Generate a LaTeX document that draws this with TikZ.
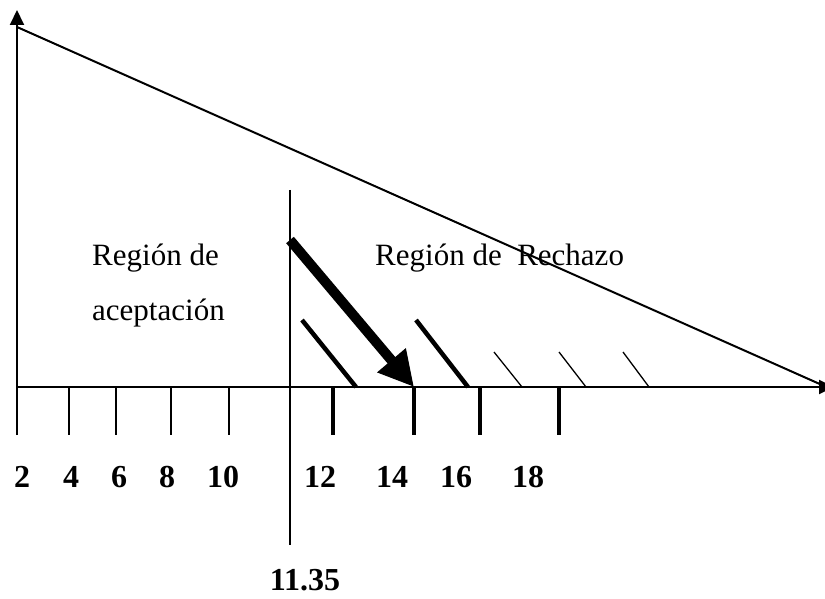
\documentclass[tikz,border=0pt]{standalone}
\usepackage{fontspec}
\setmainfont{Liberation Serif}
\usetikzlibrary{arrows.meta}
\begin{document}
\begin{tikzpicture}[x=1pt,y=-1pt]
\tikzset{axisline/.style = {line width=2pt}, thinmark/.style = {line width=2pt}, thickmark/.style = {line width=4.5pt},
  thinhatch/.style = {line width=1.3pt}, textlabel/.style = {font=\fontsize{31}{36}\selectfont, inner sep=0pt, anchor=base}, boldlabel/.style = {textlabel, font=\fontsize{32}{36}\selectfont\bfseries}}
\useasboundingbox (0,0) rectangle (825,599);
\coordinate (O) at (17,387); \coordinate (Y) at (17,10); \coordinate (X) at (834,387); \coordinate (D1) at (17,27); \coordinate (D2) at (822,385);
\coordinate (B0) at (17,435); \coordinate (T1) at (69,387); \coordinate (T2) at (116,387); \coordinate (T3) at (171,387); \coordinate (T4) at (229,387);
\coordinate (B1) at (69,435); \coordinate (B2) at (116,435); \coordinate (B3) at (171,435); \coordinate (B4) at (229,435);
\coordinate (K1) at (333,387); \coordinate (K2) at (414,387); \coordinate (K3) at (480,387); \coordinate (K4) at (559,387);
\coordinate (L1) at (333,435); \coordinate (L2) at (414,435); \coordinate (L3) at (480,435); \coordinate (L4) at (559,435);
\coordinate (V1) at (290,190); \coordinate (V2) at (290,512); \coordinate (V3) at (290,545);
\coordinate (H1) at (302,320); \coordinate (H2) at (416,320); \coordinate (H3) at (494,352); \coordinate (H4) at (559,352); \coordinate (H5) at (623,352);
\coordinate (G1) at (356,387); \coordinate (G2) at (468,387); \coordinate (G3) at (522,387); \coordinate (G4) at (586,387); \coordinate (G5) at (649,387);
\coordinate (P) at (290,240);
% axes and line
\draw[axisline, -{Triangle[length=15pt,width=14pt]}] (B0) -- (Y);
\draw[axisline, -{Triangle[length=15pt,width=14pt]}] (O) -- (X);
\draw[axisline] (D1) -- (D2);
\draw[line width=2.2pt] (V1) -- (V2); \draw[line width=1.5pt] (V2) -- (V3);
% marks
\draw[thinmark] (T1) -- (B1) (T2) -- (B2) (T3) -- (B3) (T4) -- (B4);
\draw[thickmark] (K1) -- (L1) (K2) -- (L2) (K3) -- (L3) (K4) -- (L4);
\draw[thickmark] (H1) -- (G1) (H2) -- (G2);
\draw[thinhatch] (H3) -- (G3) (H4) -- (G4) (H5) -- (G5);
\draw[line width=10pt, -{Triangle[length=35pt,width=35pt]}] (P) -- (K2);
% texts
\node[textlabel, anchor=base west] (acc1) at (92,265) {Región de};
\node[textlabel, anchor=base west] (acc2) at (92,320) {aceptación};
\node[textlabel, anchor=base west] (rech) at (375,265) {Región de\ \ Rechazo};
\node[boldlabel] (n2) at (22,487) {2}; \node[boldlabel] (n4) at (71,487) {4}; \node[boldlabel] (n6) at (119,487) {6}; \node[boldlabel] (n8) at (167,487) {8}; \node[boldlabel] (n10) at (223,487) {10};
\node[boldlabel] (n12) at (320,487) {12}; \node[boldlabel] (n14) at (392,487) {14}; \node[boldlabel] (n16) at (456,487) {16}; \node[boldlabel] (n18) at (528,487) {18};
\node[boldlabel] (crit) at (305,590) {11.35};
\end{tikzpicture}
\end{document}
